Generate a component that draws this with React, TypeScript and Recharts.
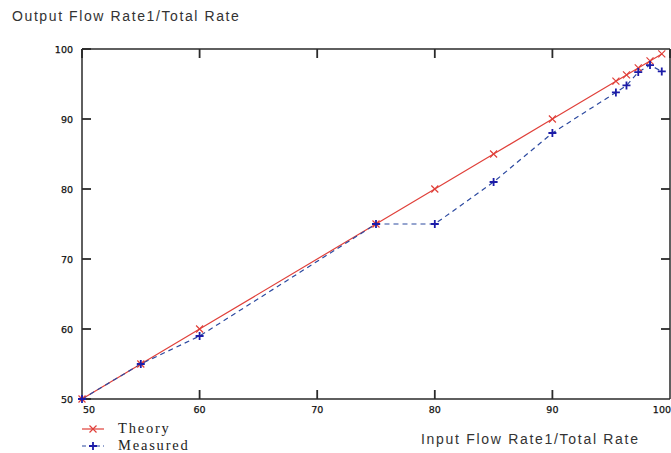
import React from 'react';
import { Line, LineChart, ReferenceLine, XAxis, YAxis } from 'recharts';

// input flow rate (x), theoretical and measured output rate (y), in %
const inputRate = [50, 55, 60, 75, 80, 85, 90, 95.4, 96.3, 97.3, 98.3, 99.3];
const theory = [50, 55, 60, 75, 80, 85, 90, 95.4, 96.3, 97.3, 98.3, 99.3];
const measured = [50, 55, 59, 75, 75, 81, 88, 93.8, 94.8, 96.7, 97.7, 96.8];
const axisTicks = [50, 60, 70, 80, 90, 100];
const innerTicks = [60, 70, 80, 90];

const RED = '#e0403a';
const BLUE_LINE = '#2d4aa0';
const BLUE_MARK = '#1c1ca8';
const FRAME = '#2a2a2a';
const TICK_LEN = 9; // px, ticks point inward
// tick length for bottom/right ticks, in data units (plot is 588 x 350 px for 50 units)
const TICK_X = (TICK_LEN * 50) / 588;
const TICK_Y = (TICK_LEN * 50) / 350;

const chartData = inputRate.map((x, i) => ({ x, theory: theory[i], measured: measured[i] }));

const labelStyle = {
  fontSize: 9.5,
  fill: '#111',
  stroke: '#111',
  strokeWidth: 0.25,
  fontFamily: 'DejaVu Sans',
};

const BottomTick = ({ x, y, payload }: any) => {
  const v = payload.value;
  const anchor = v === 50 ? 'start' : v === 100 ? 'end' : 'middle';
  const tx = v === 50 || v === 100 ? x + 1 : x;
  return (
    <text x={tx} y={y + 14} textAnchor={anchor} {...labelStyle}>
      {v}
    </text>
  );
};

const LeftTick = ({ x, y, payload }: any) => (
  <text x={x - TICK_LEN - 9} y={y + 4} textAnchor="end" {...labelStyle}>
    {payload.value}
  </text>
);

const NoLabel = () => <g />;

const XMark = ({ cx, cy, index }: any) => (
  <path
    key={`t-${index}`}
    d={`M${cx - 3.5},${cy - 3.5}L${cx + 3.5},${cy + 3.5}M${cx - 3.5},${cy + 3.5}L${cx + 3.5},${cy - 3.5}`}
    stroke={RED}
    strokeWidth={1.2}
  />
);

const PlusMark = ({ cx, cy, index }: any) => (
  <path
    key={`m-${index}`}
    d={`M${cx - 4},${cy}L${cx + 4},${cy}M${cx},${cy - 4}L${cx},${cy + 4}`}
    stroke={BLUE_MARK}
    strokeWidth={1.8}
  />
);

const legendItems = [
  { name: 'Theory', color: RED, dash: undefined, mark: 'x' },
  { name: 'Measured', color: BLUE_LINE, dash: '4 3', mark: '+' },
];

const axisCommon = {
  type: 'number' as const,
  domain: [50, 100],
  ticks: axisTicks,
  interval: 0 as const,
  tickMargin: 0,
  axisLine: { stroke: FRAME, strokeWidth: 1.5 },
};

const withTicks = { tickSize: -TICK_LEN, tickLine: { stroke: FRAME, strokeWidth: 1.8 } };
const noTicks = { tickSize: 0, tickLine: false };

export default function App() {
  return (
    <div style={{ position: 'absolute', left: 0, top: 0, width: 671, height: 453, background: '#fff' }}>
      <div
        style={{
          position: 'absolute',
          left: 12,
          top: 8,
          fontFamily: 'Liberation Sans, Arial, sans-serif',
          fontSize: 14,
          letterSpacing: 1.6,
          color: '#333',
          whiteSpace: 'nowrap',
        }}
      >
        Output Flow Rate1/Total Rate
      </div>
      <LineChart width={671} height={453} data={chartData} margin={{ top: 0, right: 0, bottom: 0, left: 0 }}>
        <XAxis dataKey="x" height={54} tick={<BottomTick />} {...axisCommon} {...noTicks} />
        <XAxis
          xAxisId="top"
          orientation="top"
          dataKey="x"
          height={49}
          tick={<NoLabel />}
          {...axisCommon}
          {...withTicks}
        />
        <YAxis width={82} tick={<LeftTick />} {...axisCommon} {...withTicks} />
        <YAxis yAxisId="right" orientation="right" width={1} tick={<NoLabel />} {...axisCommon} {...noTicks} />
        {innerTicks.map((v) => (
          <ReferenceLine
            key={`bx-${v}`}
            segment={[
              { x: v, y: 50 },
              { x: v, y: 50 + TICK_Y },
            ]}
            stroke={FRAME}
            strokeWidth={1.8}
            ifOverflow="visible"
          />
        ))}
        {innerTicks.map((v) => (
          <ReferenceLine
            key={`ry-${v}`}
            segment={[
              { x: 100, y: v },
              { x: 100 - TICK_X, y: v },
            ]}
            stroke={FRAME}
            strokeWidth={1.8}
            ifOverflow="visible"
          />
        ))}
        <Line
          dataKey="theory"
          type="linear"
          stroke={RED}
          strokeWidth={1.2}
          dot={XMark}
          activeDot={false}
          isAnimationActive={false}
        />
        <Line
          dataKey="measured"
          type="linear"
          stroke={BLUE_LINE}
          strokeWidth={1.2}
          strokeDasharray="5 4"
          dot={PlusMark}
          activeDot={false}
          isAnimationActive={false}
        />
      </LineChart>
      <div style={{ position: 'absolute', left: 80, top: 420 }}>
        {legendItems.map((it) => (
          <div key={it.name} style={{ display: 'flex', alignItems: 'center', height: 17 }}>
            <svg width={30} height={12} style={{ marginRight: 8 }}>
              <line x1={2} y1={6} x2={24} y2={6} stroke={it.color} strokeWidth={1.2} strokeDasharray={it.dash} />
              {it.mark === 'x' ? (
                <path d="M9.5,2.5L16.5,9.5M9.5,9.5L16.5,2.5" stroke={it.color} strokeWidth={1.2} />
              ) : (
                <path d="M9,6L17,6M13,2L13,10" stroke={BLUE_MARK} strokeWidth={1.8} />
              )}
            </svg>
            <span
              style={{
                fontFamily: 'Liberation Serif, Times New Roman, serif',
                fontSize: 14.5,
                letterSpacing: 1.8,
                lineHeight: '17px',
                color: '#222',
              }}
            >
              {it.name}
            </span>
          </div>
        ))}
      </div>
      <div
        style={{
          position: 'absolute',
          left: 421,
          top: 431,
          fontFamily: 'Liberation Sans, Arial, sans-serif',
          fontSize: 14,
          letterSpacing: 1.7,
          color: '#333',
          whiteSpace: 'nowrap',
        }}
      >
        Input Flow Rate1/Total Rate
      </div>
    </div>
  );
}
